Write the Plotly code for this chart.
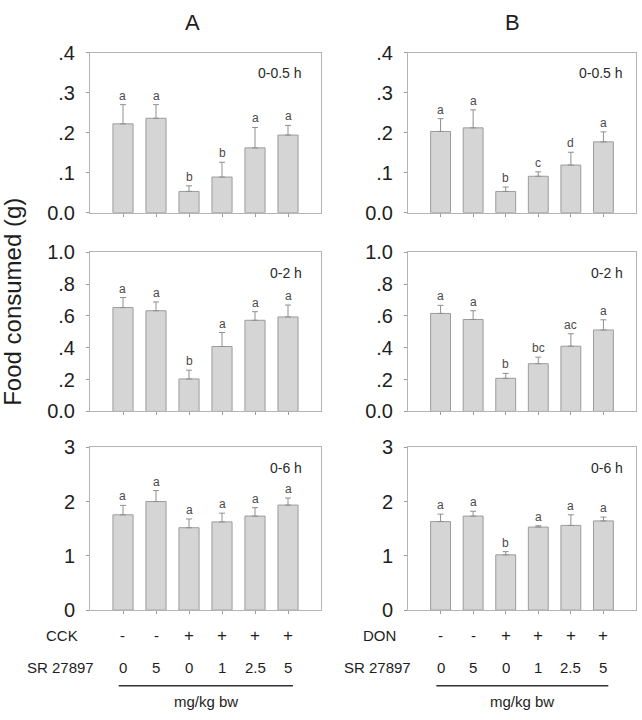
import plotly.graph_objects as go

# ---------------- data ----------------
groups_x = [0, 1, 2, 3, 4, 5]
agent_A = ["-", "-", "+", "+", "+", "+"]
agent_B = ["-", "-", "+", "+", "+", "+"]
sr_dose = ["0", "5", "0", "1", "2.5", "5"]

A_05 = [0.222, 0.236, 0.053, 0.089, 0.162, 0.194]
A_05_err = [0.048, 0.034, 0.014, 0.037, 0.051, 0.024]
A_05_let = ["a", "a", "b", "b", "a", "a"]

B_05 = [0.203, 0.212, 0.053, 0.091, 0.119, 0.177]
B_05_err = [0.032, 0.045, 0.011, 0.011, 0.032, 0.025]
B_05_let = ["a", "a", "b", "c", "d", "a"]

A_2 = [0.653, 0.633, 0.204, 0.408, 0.573, 0.594]
A_2_err = [0.063, 0.055, 0.055, 0.088, 0.054, 0.075]
A_2_let = ["a", "a", "b", "a", "a", "a"]

B_2 = [0.616, 0.578, 0.208, 0.300, 0.410, 0.512]
B_2_err = [0.051, 0.055, 0.031, 0.041, 0.078, 0.064]
B_2_let = ["a", "a", "b", "bc", "ac", "a"]

A_6 = [1.756, 2.000, 1.518, 1.625, 1.732, 1.935]
A_6_err = [0.173, 0.202, 0.161, 0.161, 0.155, 0.130]
A_6_let = ["a", "a", "a", "a", "a", "a"]

B_6 = [1.631, 1.732, 1.018, 1.530, 1.560, 1.643]
B_6_err = [0.137, 0.089, 0.059, 0.024, 0.196, 0.071]
B_6_let = ["a", "a", "b", "a", "a", "a"]

time_labels = ["0-0.5 h", "0-2 h", "0-6 h"]
y_ranges = [[0, 0.4], [0, 1.0], [0, 3]]
y_tickvals = [[0, 0.1, 0.2, 0.3, 0.4], [0, 0.2, 0.4, 0.6, 0.8, 1.0], [0, 1, 2, 3]]
y_ticktext = [["0.0", ".1", ".2", ".3", ".4"], ["0.0", ".2", ".4", ".6", ".8", "1.0"], ["0", "1", "2", "3"]]

# ---------------- styles ----------------
FONT = "Liberation Sans, Arial, sans-serif"
BAR_FILL = "#d5d5d5"
BAR_LINE = "#9c9c9c"
FRAME = "#b4b4b4"
TXT = "#1e1e1e"
W, H = 642, 720

col_x = [(90 / W, 321 / W), (408 / W, 636 / W)]
row_y = [(1 - 208 / H, 1 - 43 / H), (1 - 413 / H, 1 - 249 / H), (1 - 618 / H, 1 - 450 / H)]

panels = [
    [(A_05, A_05_err, A_05_let), (B_05, B_05_err, B_05_let)],
    [(A_2, A_2_err, A_2_let), (B_2, B_2_err, B_2_let)],
    [(A_6, A_6_err, A_6_let), (B_6, B_6_err, B_6_let)],
]

fig = go.Figure()
annotations = []
shapes = []
layout_axes = {}

idx = 0
for r in range(3):
    for c in range(2):
        idx += 1
        vals, errs, lets = panels[r][c]
        xa = "x" if idx == 1 else f"x{idx}"
        ya = "y" if idx == 1 else f"y{idx}"
        fig.add_trace(go.Bar(
            x=groups_x, y=vals, xaxis=xa, yaxis=ya,
            width=0.61,
            marker=dict(color=BAR_FILL, line=dict(color=BAR_LINE, width=1)),
            error_y=dict(type="data", symmetric=False, array=errs,
                         arrayminus=[0] * len(errs), color="#8f8f8f",
                         thickness=1, width=3),
            showlegend=False, hoverinfo="skip",
        ))
        for xi, v, e, t in zip(groups_x, vals, errs, lets):
            annotations.append(dict(
                x=xi, y=v + e, xref=xa, yref=ya, text=t, showarrow=False,
                yanchor="bottom", xanchor="center", yshift=0,
                font=dict(family=FONT, size=12, color="#4a4a4a")))
        annotations.append(dict(
            x=0.925 if c == 0 else 0.95, y=0.87,
            xref=f"{xa} domain", yref=f"{ya} domain",
            text=time_labels[r], showarrow=False, xanchor="right", yanchor="middle",
            font=dict(family=FONT, size=14, color="#2a2a2a")))
        xkey = "xaxis" if idx == 1 else f"xaxis{idx}"
        ykey = "yaxis" if idx == 1 else f"yaxis{idx}"
        layout_axes[xkey] = dict(
            domain=list(col_x[c]), anchor=ya, range=[-1, 6],
            tickvals=groups_x, ticktext=[""] * 6, ticks="outside", ticklen=3,
            tickcolor="#9a9a9a", showline=True, linecolor=FRAME, linewidth=1,
            mirror=True, showgrid=False, zeroline=False, fixedrange=True)
        layout_axes[ykey] = dict(
            domain=list(row_y[r]), anchor=xa, range=y_ranges[r],
            tickvals=y_tickvals[r], ticktext=y_ticktext[r], ticks="outside",
            ticklen=3, tickcolor="#9a9a9a", showline=True, linecolor=FRAME,
            linewidth=1, mirror=True, showgrid=False, zeroline=False,
            ticklabelstandoff=7,
            tickfont=dict(family=FONT, size=20, color=TXT), fixedrange=True)

# column titles
for c, title in enumerate(["A", "B"]):
    annotations.append(dict(
        x=(col_x[c][0] + col_x[c][1]) / 2 - (0.02 if c == 0 else 0.015), y=1 - 12 / H,
        xref="paper", yref="paper", text=title, showarrow=False,
        xanchor="center", yanchor="middle",
        font=dict(family=FONT, size=22, color=TXT)))

# y-axis title
annotations.append(dict(
    x=13 / W, y=1 - 300 / H, xref="paper", yref="paper",
    text="Food consumed (g)", textangle=-90, showarrow=False,
    xanchor="center", yanchor="middle",
    font=dict(family=FONT, size=24, color=TXT)))

# treatment rows below bottom panels
agent_names = ["CCK", "DON"]
agents = [agent_A, agent_B]
name_x = [62 / W, 379 / W]
for c in range(2):
    xa = "x5" if c == 0 else "x6"
    annotations.append(dict(x=name_x[c], y=1 - 644 / H, xref="paper", yref="paper",
                            text=agent_names[c], showarrow=False, xanchor="center",
                            yanchor="middle", font=dict(family=FONT, size=15, color=TXT)))
    annotations.append(dict(x=name_x[c] - 2 / W, y=1 - 677 / H, xref="paper", yref="paper",
                            text="SR 27897", showarrow=False, xanchor="center",
                            yanchor="middle", font=dict(family=FONT, size=15, color=TXT)))
    for xi, sgn, d in zip(groups_x, agents[c], sr_dose):
        annotations.append(dict(x=xi, y=1 - 644 / H, xref=xa, yref="paper",
                                text=sgn, showarrow=False, xanchor="center", yanchor="middle",
                                font=dict(family=FONT, size=17 if sgn == "+" else 15, color=TXT)))
        annotations.append(dict(x=xi, y=1 - 677 / H, xref=xa, yref="paper",
                                text=d, showarrow=False, xanchor="center", yanchor="middle",
                                font=dict(family=FONT, size=15, color=TXT)))
    shapes.append(dict(type="line", xref=xa, yref="paper",
                       x0=groups_x[0] - 0.13, x1=groups_x[-1] + 0.15,
                       y0=1 - 696 / H, y1=1 - 696 / H,
                       line=dict(color="#333333", width=1.5)))
    annotations.append(dict(x=(groups_x[0] + groups_x[-1]) / 2, y=1 - 712 / H, xref=xa, yref="paper",
                            text="mg/kg bw", showarrow=False, xanchor="center", yanchor="middle",
                            font=dict(family=FONT, size=15, color=TXT)))

fig.update_layout(
    width=W, height=H, margin=dict(l=0, r=0, t=0, b=0),
    paper_bgcolor="white", plot_bgcolor="white",
    font=dict(family=FONT, color=TXT),
    annotations=annotations, shapes=shapes, bargap=0.4,
    **layout_axes,
)

fig.write_html("out.html", config={"displayModeBar": False},
               post_script="document.body.style.margin='0';document.body.style.overflow='hidden';")
